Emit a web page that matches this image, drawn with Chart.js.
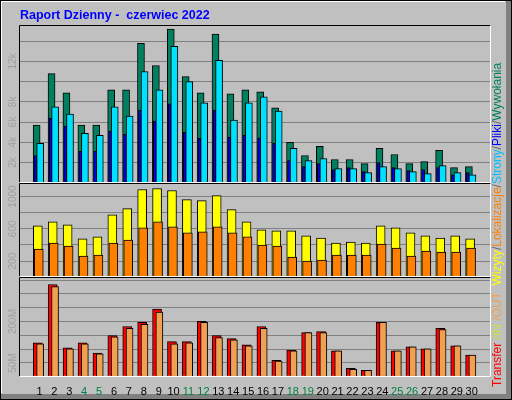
<!DOCTYPE html>
<html><head><meta charset="utf-8">
<script src="https://cdn.jsdelivr.net/npm/chart.js@4"></script>
<style>html,body{margin:0;padding:0;background:#c0c0c0}</style>
</head><body>
<canvas id="c" width="512" height="400"></canvas>
<script>
const days = Array.from({length:30},(_,i)=>i+1);
const weekendDays = [4,5,11,12,18,19,25,26];
const hits  = [5700,10800,8900,5700,5700,9200,9200,13800,11600,15200,10500,8900,14700,8800,9200,9000,7400,4000,2700,3600,2300,2300,1900,3400,2800,1900,2100,3200,1500,1600];
const files = [2700,6400,5600,3100,3100,5100,4800,7200,6100,7800,5000,4400,7200,4500,4700,4400,3900,2200,1600,1900,1300,1500,1100,2000,1500,1200,1300,1500,800,1000];
const pages = [3900,7500,6800,4900,4700,7500,6600,11000,9200,13500,10000,7900,12100,6200,7900,8500,7100,3400,2200,2400,1400,1400,1000,1600,1400,1100,900,1700,1000,800];
const visits= [637,687,650,475,500,775,850,1087,1100,1075,962,950,1012,837,687,587,575,575,512,487,425,437,425,637,612,550,512,487,512,475];
const sites = [350,425,387,262,275,425,462,612,687,625,550,562,625,550,500,400,387,250,200,212,275,275,275,412,362,262,325,312,312,362];
const kbTotal=[123,334,105,123,86,149,182,197,245,127,127,201,149,138,116,182,60,97,160,164,94,31,23,197,94,108,101,175,112,79];
const kbIn  = [3,3,3,3,3,3,3,3,3,3,3,3,3,3,3,3,3,3,3,3,3,3,3,3,3,3,3,3,3,3];
const kbOut = [119,326,101,119,83,145,175,190,234,119,123,197,142,134,112,175,57,94,160,160,94,27,23,197,94,108,101,171,112,79];
const topTicks=[2000,4000,6000,8000,10000,12000,14000], topLabels={2000:'2k',4000:'4k',6000:'6k',8000:'8k',12000:'12k'};
const midTicks=[200,400,600,800,1000], midLabels={200:'200',600:'600',1000:'1000'};
const botTicks=[50,100,150,200,250,300,350], botLabels={50:'50M',200:'200M'};

function ds(label,vals,axis,shift,thick,color,order,border=true){
  return {label,data:vals.map((v,i)=>({x:days[i]+shift,y:v})),yAxisID:axis,grouped:false,
    barThickness:thick,backgroundColor:color,borderColor:'#000',borderWidth:border?1:0,borderSkipped:false,order};
}
const datasets=[
  ds('Wywołania',hits,'yT',-0.19,7,'#008060',3),
  ds('Pliki',files,'yT',-0.26,3,'#0000ff',2),
  ds('Strony',pages,'yT',0.05,7,'#00e0ff',1),
  ds('Wizyty',visits,'yM',-0.11,9,'#ffff00',2),
  ds('Lokalizacje',sites,'yM',-0.045,9,'#ff8000',1),
  ds('Transfer',kbTotal,'yB',-0.11,9,'#ff0000',3),
  ds('IN',kbIn,'yB',-0.3,2,'#c8e040',1,false),
  ds('OUT',kbOut,'yB',0.045,7,'#f0a050',2),
];
function yAxis(max,weight,ticks){
  return {type:'linear',min:0,max,stack:'p',stackWeight:weight,position:'left',
    afterBuildTicks:s=>{s.ticks=ticks.map(v=>({value:v}));},
    ticks:{display:false},border:{display:false},
    grid:{color:'#808080',drawTicks:false,lineWidth:1}};
}
const panelLabels={yT:topLabels,yM:midLabels,yB:botLabels};
const deco={id:'deco',
  beforeDraw(ch){const c=ch.ctx;c.save();
    c.fillStyle='#c0c0c0';c.fillRect(0,0,512,400);
    c.fillStyle='#808080';c.fillRect(506,0,6,400);c.fillRect(0,394,512,6);
    c.strokeStyle='#000';c.lineWidth=1;c.strokeRect(0.5,0.5,511,399);
    c.strokeStyle='#fff';c.beginPath();c.moveTo(1.5,393);c.lineTo(1.5,1.5);c.lineTo(505,1.5);c.stroke();
    c.restore();},
  afterDatasetsDraw(ch){const c=ch.ctx;c.save();const a=ch.chartArea;
    ['yT','yM','yB'].forEach(id=>{const s=ch.scales[id];
      const t=Math.round(s.top)+0.5,b=Math.round(s.bottom)-0.5,l=Math.round(a.left)-0.5,r=Math.round(a.right)+0.5;
      c.strokeStyle='#000';c.beginPath();c.moveTo(l,b);c.lineTo(l,t);c.lineTo(r,t);c.stroke();
      c.strokeStyle='#fff';c.beginPath();c.moveTo(r,t);c.lineTo(r,b);c.lineTo(l,b);c.stroke();
      c.fillStyle='#a0a0a0';c.font='10px "Liberation Sans"';c.textAlign='center';c.textBaseline='middle';
      const L=panelLabels[id];for(const k in L){const y=s.getPixelForValue(+k);
        c.save();c.translate(13,y);c.rotate(-Math.PI/2);c.fillText(L[k],0,0);c.restore();}
    });
    c.fillStyle='#0000ff';c.font='bold 12.5px "Liberation Sans"';c.textAlign='left';c.textBaseline='alphabetic';
    c.fillText('Raport Dzienny -  czerwiec 2022',20,19);
    const segs=[['Transfer','#ff0000'],[' /IN','#c8e040'],[' /OUT','#f0a050'],['  Wizyty','#ffff00'],['/','#606060'],['Lokalizacje','#ff8000'],['/','#606060'],['Strony','#00c0ff'],['/','#606060'],['Pliki','#0000ff'],['/','#606060'],['Wywołania','#008060']];
    c.save();c.translate(501,387);c.rotate(-Math.PI/2);c.font='12px "Liberation Sans"';c.textBaseline='alphabetic';
    let x=0;segs.forEach(([t,col])=>{c.fillStyle=col;c.fillText(t,x,0);x+=c.measureText(t).width;});
    c.restore();c.restore();}
};
new Chart(document.getElementById('c'),{type:'bar',data:{datasets},
  options:{responsive:false,animation:false,devicePixelRatio:1,
    layout:{padding:{left:20,right:22,top:25,bottom:0}},
    plugins:{legend:{display:false},tooltip:{enabled:false}},
    scales:{
      x:{type:'linear',min:0.22,max:30.7,afterBuildTicks:s=>{s.ticks=days.map(v=>({value:v}));},
        grid:{display:false},border:{display:false},
        ticks:{autoSkip:false,maxRotation:0,padding:1,font:{family:'Liberation Sans',size:11},
          color:c=>weekendDays.includes(c.tick.value)?'#008040':'#000'}},
      yB:yAxis(360,99,botTicks),
      yM:yAxis(1170,94,midTicks),
      yT:yAxis(15600,157,topTicks)
    }},plugins:[deco]});
</script></body></html>
